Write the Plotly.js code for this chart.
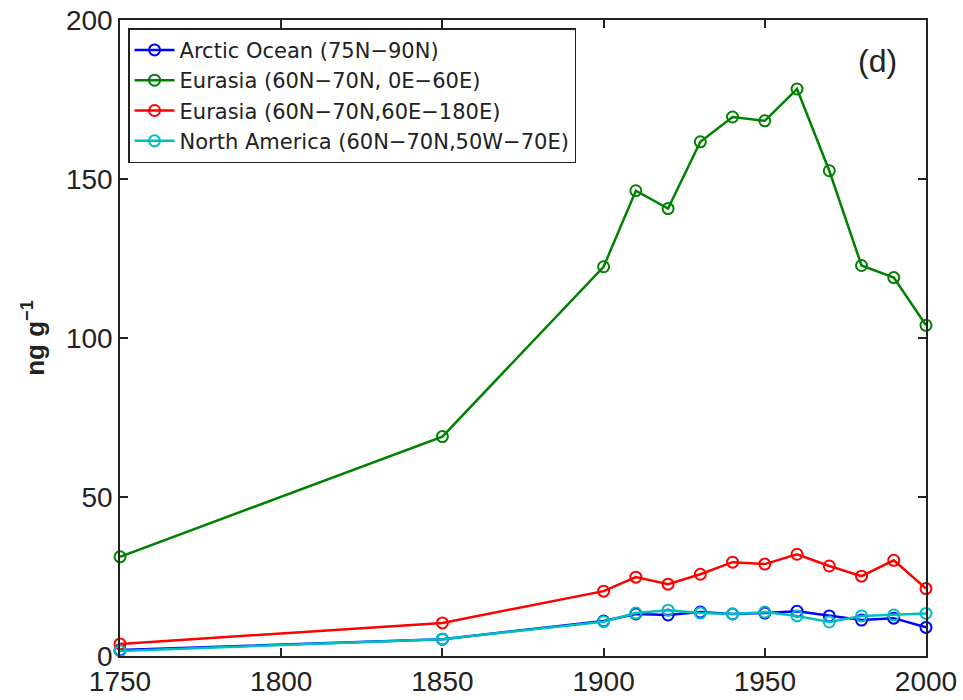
<!DOCTYPE html>
<html><head><meta charset="utf-8">
<script src="https://cdn.plot.ly/plotly-3.0.1.min.js"></script>
<style>body{margin:0;background:#fff}#chart{width:963px;height:700px}</style>
</head><body><div id="chart"></div>
<script>
const years = [1750, 1850, 1900, 1910, 1920, 1930, 1940, 1950, 1960, 1970, 1980, 1990, 2000];
const seriesNames = ["Arctic Ocean (75N\u221290N)", "Eurasia (60N\u221270N, 0E\u221260E)", "Eurasia (60N\u221270N,60E\u2212180E)", "North America (60N\u221270N,50W\u221270E)"];
const arcticOcean = [1.9, 5.3, 11.0, 13.2, 12.9, 13.8, 13.2, 13.5, 14.1, 12.6, 11.3, 11.9, 9.0];
const eurasiaWest = [31.2, 69.0, 122.4, 146.3, 140.7, 161.7, 169.5, 168.3, 178.3, 152.6, 122.8, 119.0, 104.0];
const eurasiaEast = [3.8, 10.4, 20.4, 24.8, 22.6, 25.7, 29.5, 28.9, 32.0, 28.3, 25.1, 30.1, 21.2];
const northAmerica = [1.6, 5.3, 10.8, 13.5, 14.4, 13.5, 13.2, 13.8, 12.6, 10.7, 12.6, 12.9, 13.4];
const xTicks = [1750, 1800, 1850, 1900, 1950, 2000];
const yTicks = [0, 50, 100, 150, 200];

const colors = ["#0000ff", "#008000", "#ff0000", "#00bfbf"];
const allVals = [arcticOcean, eurasiaWest, eurasiaEast, northAmerica];
const traces = allVals.map((v, i) => ({
  x: years, y: v, name: seriesNames[i], type: "scatter", mode: "lines+markers",
  line: {color: colors[i], width: 2.5},
  marker: {symbol: "circle-open", size: 11, color: colors[i], line: {width: 2, color: colors[i]}},
  cliponaxis: false
}));

const FONT = "Liberation Sans, Arial, sans-serif";
const axisCommon = {
  showline: true, linecolor: "#222", linewidth: 1.5, mirror: "ticks",
  ticks: "inside", ticklen: 8, tickcolor: "#222", tickwidth: 1.5,
  showgrid: false, zeroline: false,
  tickfont: {family: FONT, size: 28, color: "#222"}
};

const layout = {
  width: 963, height: 700,
  margin: {l: 120, r: 37, t: 20, b: 44},
  paper_bgcolor: "#fff", plot_bgcolor: "#fff",
  showlegend: true,
  legend: {
    x: 0.01, y: 0.987, xanchor: "left", yanchor: "top",
    bgcolor: "#fff", bordercolor: "#222", borderwidth: 1.5,
    font: {family: "DejaVu Sans, sans-serif", size: 21, color: "#222"},
    tracegroupgap: 0, itemwidth: 40
  },
  xaxis: Object.assign({}, axisCommon, {range: [1750, 2000], tickvals: xTicks, ticktext: xTicks.map(String)}),
  yaxis: Object.assign({}, axisCommon, {range: [0, 200], tickvals: yTicks, ticktext: yTicks.map(String),
    title: {text: "<b>ng g<sup>\u22121</sup></b>", standoff: 14, font: {family: FONT, size: 26, color: "#222"}}}),
  annotations: [{
    xref: "paper", yref: "paper", x: 0.94, y: 0.935, xanchor: "center", yanchor: "middle",
    text: "(d)", showarrow: false,
    font: {family: FONT, size: 32, color: "#222"}
  }]
};

Plotly.newPlot("chart", traces, layout, {displayModeBar: false});
</script>
</body></html>
